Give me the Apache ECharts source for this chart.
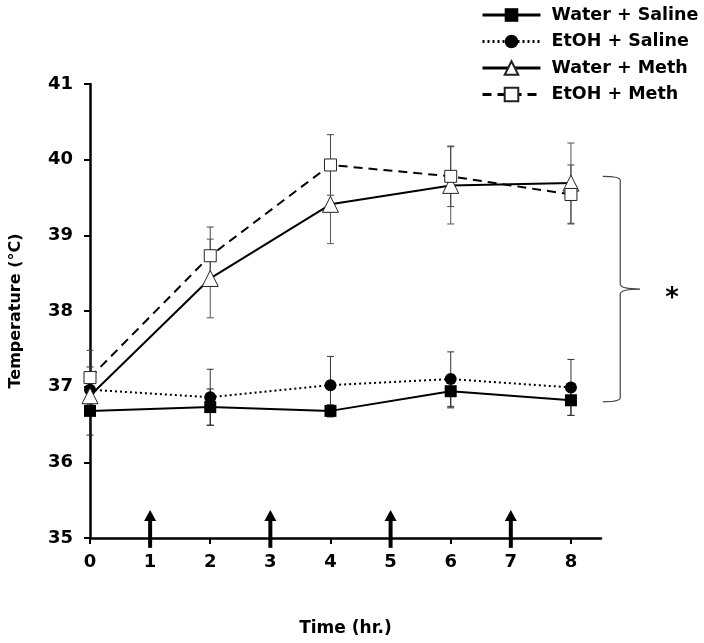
<!DOCTYPE html>
<html><head><meta charset="utf-8">
<script src="https://cdn.jsdelivr.net/npm/echarts@6/dist/echarts.min.js"></script>
<style>html,body{margin:0;padding:0;background:#fff}#c{width:704px;height:643px}</style>
</head><body><div id="c"></div>
<script>
const times = [0, 2, 4, 6, 8];
const seriesNames = ['Water + Saline', 'EtOH + Saline', 'Water + Meth', 'EtOH + Meth'];
const waterSaline = [36.68, 36.73, 36.68, 36.94, 36.82];
const waterSalineErr = [0.32, 0.24, 0.08, 0.22, 0.2];
const etohSaline = [36.96, 36.86, 37.02, 37.10, 36.99];
const etohSalineErr = [0.3, 0.37, 0.38, 0.36, 0.37];
const waterMeth = [36.88, 38.43, 39.41, 39.66, 39.69];
const waterMethErr = [0.25, 0.52, 0.52, 0.51, 0.53];
const etohMeth = [37.12, 38.73, 39.93, 39.78, 39.54];
const etohMethErr = [0.36, 0.38, 0.4, 0.4, 0.39];
const xTicks = [0, 1, 2, 3, 4, 5, 6, 7, 8];
const yTicks = [35, 36, 37, 38, 39, 40, 41];
const injectionTimes = [1, 3, 5, 7];
const arrowBase = 34.87, arrowTip = 35.37;
// brace: x of ends, x of spine, x of tip, y top, y bottom
const brace = [8.53, 8.82, 9.15, 39.78, 36.80];
const starPos = [9.68, 38.15];

const FONT = 'DejaVu Sans';

function errSeries(name, vals, errs, color) {
  return {
    type: 'custom', name: name + ' err', silent: true, z: 1,
    data: times.map((t, i) => [t, vals[i] - errs[i], vals[i] + errs[i]]),
    encode: { x: 0, y: [1, 2] },
    renderItem(params, api) {
      const x = api.value(0);
      const lo = api.coord([x, api.value(1)]);
      const hi = api.coord([x, api.value(2)]);
      const w = 3.5;
      const st = { stroke: color, lineWidth: 1 };
      return { type: 'group', children: [
        { type: 'line', shape: { x1: lo[0], y1: lo[1], x2: hi[0], y2: hi[1] }, style: st },
        { type: 'line', shape: { x1: lo[0] - w, y1: lo[1], x2: lo[0] + w, y2: lo[1] }, style: st },
        { type: 'line', shape: { x1: hi[0] - w, y1: hi[1], x2: hi[0] + w, y2: hi[1] }, style: st }
      ] };
    }
  };
}

function lineSeries(name, vals, symbol, size, fill, lineType) {
  return {
    type: 'line', name, z: 3,
    data: times.map((t, i) => [t, vals[i]]),
    symbol, symbolSize: size, showAllSymbol: true,
    lineStyle: { color: '#000', width: 2, type: lineType },
    itemStyle: { color: fill, borderColor: '#222', borderWidth: fill === '#fff' ? 1 : 0, opacity: 1 },
    emphasis: { disabled: true }
  };
}

const chart = echarts.init(document.getElementById('c'), null, { renderer: 'canvas' });
chart.setOption({
  animation: false,
  backgroundColor: '#fff',
  grid: { left: 90, right: 103, top: 84, bottom: 105 },
  legend: {
    orient: 'vertical', left: 476, top: 1,
    itemWidth: 58, itemHeight: 17, itemGap: 8.5,
    data: seriesNames,
    lineStyle: { width: 3 },
    textStyle: { fontFamily: FONT, fontWeight: 'bold', fontSize: 17.5, color: '#000', padding: [0, 0, 0, 6] }
  },
  xAxis: {
    type: 'value', min: 0, max: 8.5,
    name: 'Time (hr.)', nameLocation: 'middle', nameGap: 82,
    nameTextStyle: { fontFamily: FONT, fontWeight: 'bold', fontSize: 17, color: '#000' },
    axisLine: { lineStyle: { color: '#000', width: 2.5 } },
    axisTick: { length: 6, lineStyle: { color: '#000', width: 2 }, customValues: xTicks },
    axisLabel: { customValues: xTicks, fontFamily: FONT, fontWeight: 'bold', fontSize: 18, color: '#000', margin: 15 },
    splitLine: { show: false }
  },
  yAxis: {
    type: 'value', min: 35, max: 41, interval: 1,
    name: 'Temperature (°C)', nameLocation: 'middle', nameGap: 66, nameRotate: 90,
    nameTextStyle: { fontFamily: FONT, fontWeight: 'bold', fontSize: 16, color: '#000' },
    axisLine: { show: true, lineStyle: { color: '#000', width: 2.5 } },
    axisTick: { show: true, length: 6, lineStyle: { color: '#000', width: 2 }, customValues: yTicks },
    axisLabel: { customValues: yTicks, fontFamily: FONT, fontWeight: 'bold', fontSize: 18, color: '#000', margin: 17 },
    splitLine: { show: false }
  },
  series: [
    errSeries(seriesNames[0], waterSaline, waterSalineErr, '#222'),
    errSeries(seriesNames[1], etohSaline, etohSalineErr, '#333'),
    errSeries(seriesNames[2], waterMeth, waterMethErr, '#555'),
    errSeries(seriesNames[3], etohMeth, etohMethErr, '#444'),
    lineSeries(seriesNames[0], waterSaline, 'rect', 12, '#000', 'solid'),
    lineSeries(seriesNames[1], etohSaline, 'circle', 12, '#000', [2, 3]),
    lineSeries(seriesNames[2], waterMeth, 'triangle', 16, '#fff', 'solid'),
    lineSeries(seriesNames[3], etohMeth, 'rect', 12, '#fff', [9, 6]),
    {
      type: 'custom', name: 'arrows', silent: true, z: 4,
      data: injectionTimes.map(t => [t, arrowBase, arrowTip]),
      encode: { x: 0, y: [1, 2] },
      renderItem(params, api) {
        const x = api.value(0);
        const b = api.coord([x, api.value(1)]);
        const t = api.coord([x, api.value(2)]);
        const headH = 11, headW = 6;
        return { type: 'group', children: [
          { type: 'line', shape: { x1: b[0], y1: b[1], x2: t[0], y2: t[1] + headH - 1 }, style: { stroke: '#000', lineWidth: 4 } },
          { type: 'polygon', shape: { points: [[t[0], t[1]], [t[0] - headW, t[1] + headH], [t[0] + headW, t[1] + headH]] }, style: { fill: '#000' } }
        ] };
      }
    },
    {
      type: 'custom', name: 'brace', silent: true, z: 4,
      data: [brace.concat(starPos)],
      encode: { x: [0, 1, 2], y: [3, 4] },
      renderItem(params, api) {
        const x0 = api.value(0), x1 = api.value(1), x2 = api.value(2);
        const yT = api.value(3), yB = api.value(4);
        const yM = (yT + yB) / 2;
        const pT = api.coord([x0, yT]);
        const pS = api.coord([x1, yT]);
        const pB = api.coord([x0, yB]);
        const pM = api.coord([x2, yM]);
        const sx = pS[0];
        const r = 4, rm = 5;
        const d = 'M' + pT[0] + ' ' + pT[1] +
          ' Q' + sx + ' ' + pT[1] + ' ' + sx + ' ' + (pT[1] + r) +
          ' L' + sx + ' ' + (pM[1] - rm) +
          ' Q' + sx + ' ' + pM[1] + ' ' + pM[0] + ' ' + pM[1] +
          ' Q' + sx + ' ' + pM[1] + ' ' + sx + ' ' + (pM[1] + rm) +
          ' L' + sx + ' ' + (pB[1] - r) +
          ' Q' + sx + ' ' + pB[1] + ' ' + pB[0] + ' ' + pB[1];
        const star = api.coord([api.value(5), api.value(6)]);
        return { type: 'group', children: [
          { type: 'path', shape: { pathData: d }, style: { stroke: '#444', lineWidth: 1.2, fill: null } },
          { type: 'text', x: star[0], y: star[1], style: { text: '*', fontFamily: FONT, fontWeight: 'bold', fontSize: 26, fill: '#000', align: 'center', verticalAlign: 'middle' } }
        ] };
      }
    }
  ]
});
</script>
</body></html>
